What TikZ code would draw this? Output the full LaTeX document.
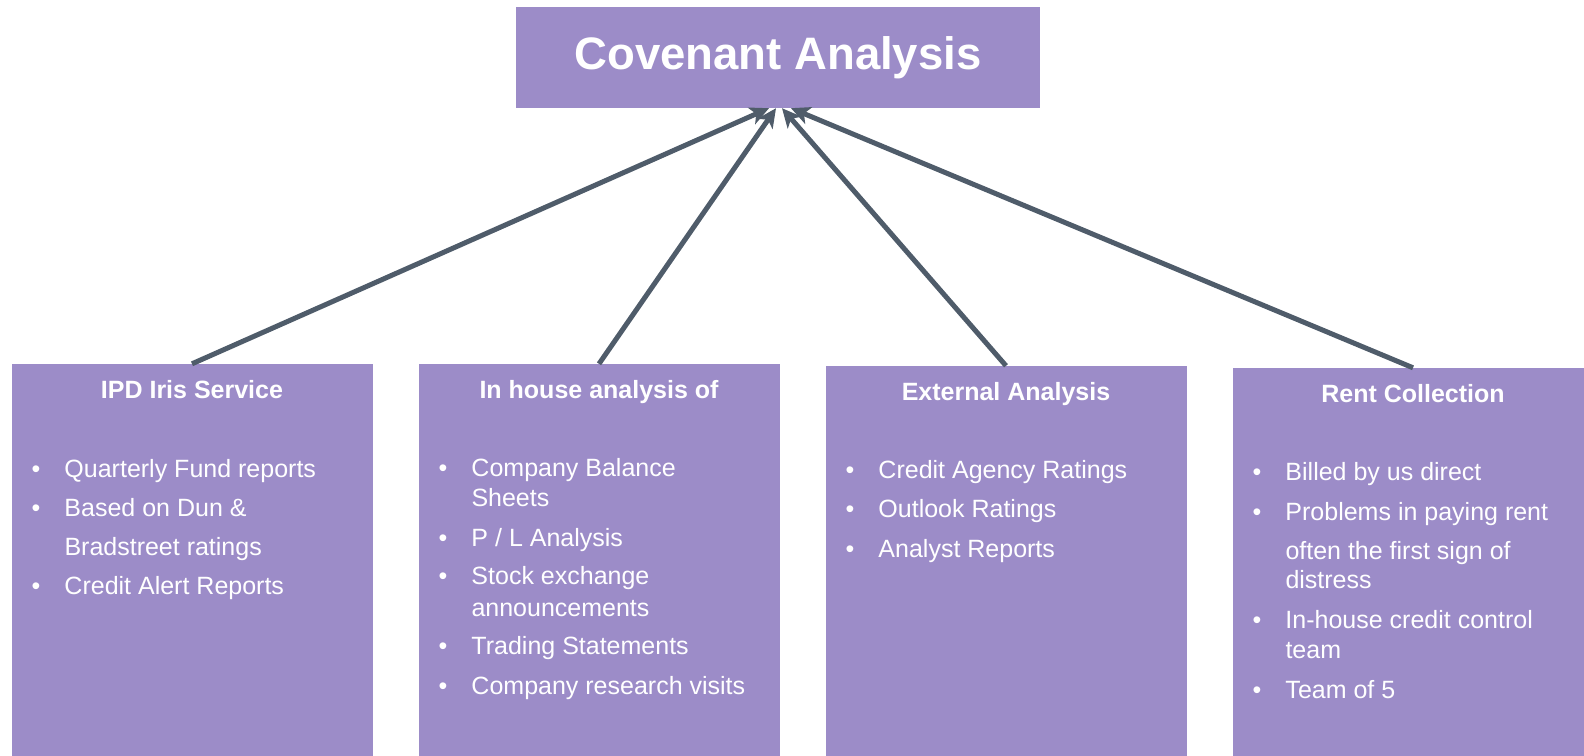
\documentclass[tikz,border=0pt]{standalone}
\usepackage{fontspec}
\setmainfont{Liberation Sans}
\usetikzlibrary{positioning,arrows.meta}

\definecolor{boxpurple}{RGB}{156,140,200}
\definecolor{linkgrey}{RGB}{79,92,106}

% bullet with a fixed indent, and the same indent for wrapped lines
\newcommand{\bul}{\makebox[33pt][l]{\textbullet}}
\newcommand{\cont}{\hspace*{33pt}}

\begin{document}
\begin{tikzpicture}[x=1pt, y=1pt, node distance={407pt},
    title/.style = {fill=boxpurple, minimum width=524pt, minimum height=101pt, text=white, font=\fontsize{45.5}{52}\selectfont\bfseries},
    panel/.style = {fill=boxpurple, minimum width=361pt, minimum height=420pt, inner sep=0pt},
    head/.style = {text=white, anchor=base, font=\fontsize{25}{30}\selectfont\bfseries},
    items/.style = {text=white, anchor=base west, inner sep=0pt, font=\fontsize{25}{30}\selectfont},
    link/.style = {draw=linkgrey, line width=5pt, -{Stealth[length=19pt, width=18pt, inset=5pt]}}]
    \useasboundingbox (0,0) rectangle (1584,755);
    \clip (0,0) rectangle (1584,755);

    \node[title] (top) at (778,697.5) {Covenant Analysis};

    \node[panel] (b1) at (192,181) {};
    \node[panel] (b2) [right of=b1] {};
    \node[panel] (b3) [right of=b2, yshift=-2pt] {};
    \node[panel] (b4) [right of=b3, yshift=-2pt] {};

    \node[head] (h1) at ([yshift=-35pt]b1.north) {IPD Iris Service};
    \node[head] (h2) at ([yshift=-35pt]b2.north) {In house analysis of};
    \node[head] (h3) at ([yshift=-35pt]b3.north) {External Analysis};
    \node[head] (h4) at ([yshift=-35pt]b4.north) {Rent Collection};

    \node[items] (l1) at ([xshift=20pt, yshift=-114pt]b1.north west) {%
      \begin{tabular}[t]{@{}l@{}}
        \bul Quarterly Fund reports\\[9pt]
        \bul Based on Dun \&\\[9pt]
        \cont Bradstreet ratings\\[9pt]
        \bul Credit Alert Reports
      \end{tabular}};
    \node[items] (l2) at ([xshift=20pt, yshift=-113pt]b2.north west) {%
      \begin{tabular}[t]{@{}l@{}}
        \bul Company Balance\\
        \cont Sheets\\[10pt]
        \bul P / L Analysis\\[8pt]
        \bul Stock exchange\\[2pt]
        \cont announcements\\[8pt]
        \bul Trading Statements\\[10pt]
        \bul Company research visits
      \end{tabular}};
    \node[items] (l3) at ([xshift=20pt, yshift=-113pt]b3.north west) {%
      \begin{tabular}[t]{@{}l@{}}
        \bul Credit Agency Ratings\\[9pt]
        \bul Outlook Ratings\\[10pt]
        \bul Analyst Reports
      \end{tabular}};
    \node[items] (l4) at ([xshift=20pt, yshift=-113pt]b4.north west) {%
      \begin{tabular}[t]{@{}l@{}}
        \bul Billed by us direct\\[10pt]
        \bul Problems in paying rent\\[9pt]
        \cont often the first sign of\\[-1pt]
        \cont distress\\[10pt]
        \bul In-house credit control\\
        \cont team\\[10pt]
        \bul Team of 5
      \end{tabular}};

    % every panel feeds the title box
    \draw[link] (b1.north) -- ([xshift=-9pt]top.south);
    \draw[link] (b2.north) -- ([xshift=-2pt]top.south);
    \draw[link] (b3.north) -- ([xshift=4pt]top.south);
    \draw[link] (b4.north) -- ([xshift=13pt]top.south);
\end{tikzpicture}
\end{document}
